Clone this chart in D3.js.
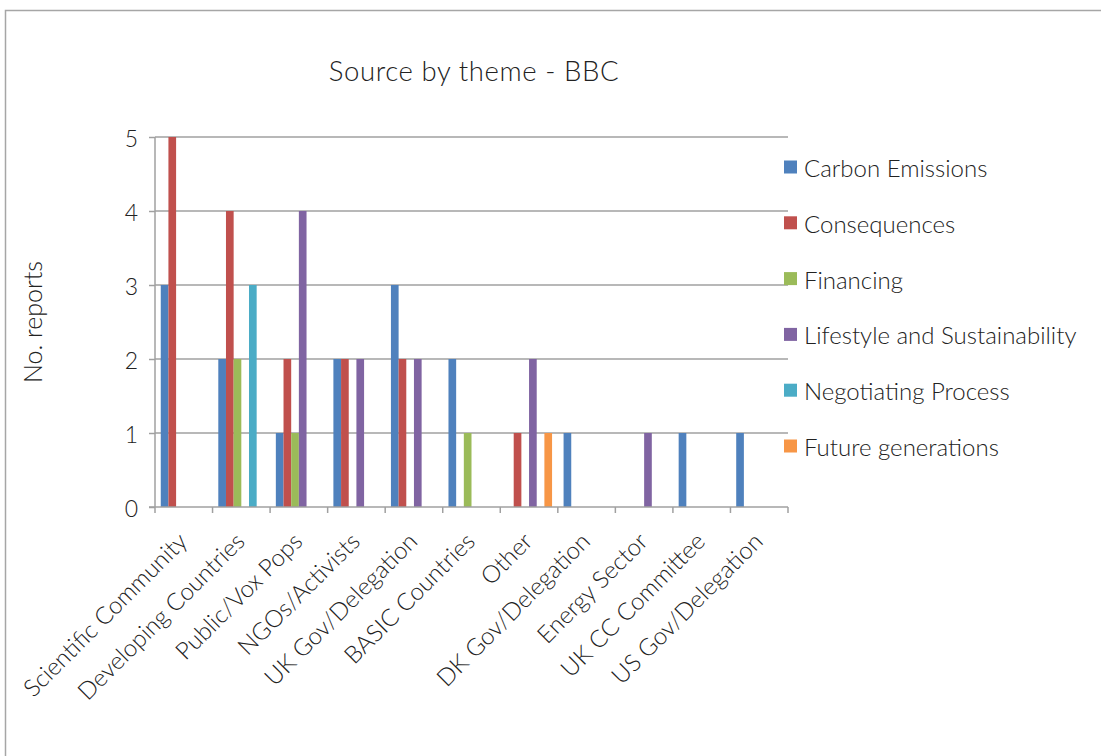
<!DOCTYPE html>
<html>
<head>
<meta charset="utf-8">
<script src="https://cdn.jsdelivr.net/npm/d3@7"></script>
<style>
  html, body { margin: 0; padding: 0; background: #fff; }
  svg { display: block; }
  text { font-family: Lato, "Open Sans", sans-serif; fill: #222; font-weight: 300; }
</style>
</head>
<body>
<svg id="chart" width="1101" height="756"></svg>
<script>
// Sources quoted in BBC reports, grouped by theme
const categories = [
  "Scientific Community", "Developing Countries", "Public/Vox Pops",
  "NGOs/Activists", "UK Gov/Delegation", "BASIC Countries", "Other",
  "DK Gov/Delegation", "Energy Sector", "UK CC Committee", "US Gov/Delegation"
];
const seriesNames = [
  "Carbon Emissions", "Consequences", "Financing",
  "Lifestyle and Sustainability", "Negotiating Process", "Future generations"
];
const carbonEmissions   = [3, 2, 1, 2, 3, 2, 0, 1, 0, 1, 1];
const consequences      = [5, 4, 2, 2, 2, 0, 1, 0, 0, 0, 0];
const financing         = [0, 2, 1, 0, 0, 1, 0, 0, 0, 0, 0];
const lifestyle         = [0, 0, 4, 2, 2, 0, 2, 0, 1, 0, 0];
const negotiating       = [0, 3, 0, 0, 0, 0, 0, 0, 0, 0, 0];
const futureGenerations = [0, 0, 0, 0, 0, 0, 1, 0, 0, 0, 0];
const yTicks = [0, 1, 2, 3, 4, 5];

const seriesValues = [carbonEmissions, consequences, financing, lifestyle, negotiating, futureGenerations];
const colors = ["#4F81BD", "#C0504D", "#9BBB59", "#8064A2", "#4BACC6", "#F79646"];

const svg = d3.select("#chart");

// chart frame
svg.append("rect")
  .attr("x", 5.5).attr("y", 10.5)
  .attr("width", 1200).attr("height", 800)
  .attr("fill", "none").attr("stroke", "#a6a6a6").attr("stroke-width", 1.5);

const plot = { left: 155, right: 788, top: 137, bottom: 507 };

const x = d3.scaleBand().domain(categories).range([plot.left, plot.right]).padding(0);
const bw = x.bandwidth();
const xs = d3.scaleBand().domain(seriesNames).range([bw * 0.1, bw * 0.9]).padding(0);
const y = d3.scaleLinear().domain([0, 5]).range([plot.bottom, plot.top]);

const gridColor = "#a0a0a0";

// horizontal gridlines
svg.append("g").selectAll("line").data(yTicks.filter(d => d > 0)).join("line")
  .attr("x1", plot.left).attr("x2", plot.right)
  .attr("y1", d => y(d)).attr("y2", d => y(d))
  .attr("stroke", gridColor).attr("stroke-width", 1.5);

// bars
const rows = [];
categories.forEach((c, i) => {
  seriesNames.forEach((s, j) => {
    const v = seriesValues[j][i];
    if (v > 0) rows.push({ c, s, v, color: colors[j] });
  });
});
svg.append("g").selectAll("rect").data(rows).join("rect")
  .attr("x", d => x(d.c) + xs(d.s))
  .attr("width", xs.bandwidth())
  .attr("y", d => y(d.v))
  .attr("height", d => y(0) - y(d.v))
  .attr("fill", d => d.color);

// y axis
const yAxis = svg.append("g")
  .attr("transform", `translate(${plot.left},0)`)
  .call(d3.axisLeft(y).tickValues(yTicks).tickSize(6).tickPadding(11).tickFormat(d3.format("d")));
yAxis.select(".domain").attr("stroke", gridColor).attr("stroke-width", 1.5).attr("d", `M0,${plot.top}V${plot.bottom}`);
yAxis.selectAll(".tick line").attr("stroke", gridColor).attr("stroke-width", 1.5);
yAxis.selectAll(".tick text")
  .style("font-size", "23px").style("font-family", "Lato, sans-serif").style("font-weight", 300)
  .attr("fill", "#222").attr("dy", "0.4em");

// x axis with boundary ticks
svg.append("line")
  .attr("x1", plot.left - 6).attr("x2", plot.right)
  .attr("y1", plot.bottom).attr("y2", plot.bottom)
  .attr("stroke", gridColor).attr("stroke-width", 1.5);
const bounds = categories.map(c => x(c)).concat([plot.right]);
svg.append("g").selectAll("line").data(bounds).join("line")
  .attr("x1", d => d).attr("x2", d => d)
  .attr("y1", plot.bottom).attr("y2", plot.bottom + 6)
  .attr("stroke", gridColor).attr("stroke-width", 1.5);

// category labels
svg.append("g").selectAll("text").data(categories).join("text")
  .attr("transform", d => `translate(${x(d) + bw / 2 + 5},${plot.bottom + 36}) rotate(-45)`)
  .attr("text-anchor", "end")
  .style("font-size", "24px")
  .text(d => d);

// y axis title
svg.append("text")
  .attr("transform", "translate(42,322) rotate(-90)")
  .attr("text-anchor", "middle")
  .style("font-size", "25px")
  .text("No. reports");

// chart title
svg.append("text")
  .attr("x", 474).attr("y", 81)
  .attr("text-anchor", "middle")
  .style("font-size", "27.5px")
  .style("letter-spacing", "0.6px")
  .text("Source by theme - BBC");

// legend
const legend = svg.append("g").selectAll("g").data(seriesNames).join("g")
  .attr("transform", (d, i) => `translate(784,${167 + i * 55.8})`);
legend.append("rect")
  .attr("x", 0).attr("y", -6.5).attr("width", 13).attr("height", 13)
  .attr("fill", (d, i) => colors[i]);
legend.append("text")
  .attr("x", 20).attr("y", 10)
  .style("font-size", "24px")
  .text(d => d);
</script>
</body>
</html>
